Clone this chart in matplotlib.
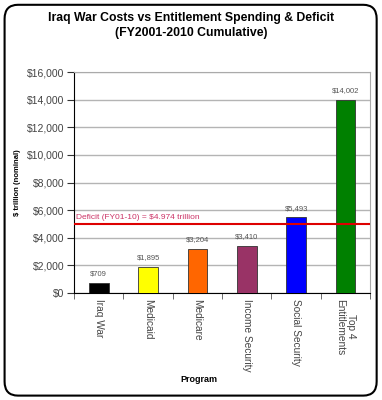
import numpy as np
import matplotlib
matplotlib.use("Agg")
import matplotlib.pyplot as plt
from matplotlib.patches import FancyBboxPatch

programs = ["Iraq War", "Medicaid", "Medicare", "Income Security",
            "Social Security", "Top 4\nEntitlements"]
values = [709, 1895, 3204, 3410, 5493, 14002]
bar_colors = ["#000000", "#ffff00", "#ff6600", "#993366", "#0000ff", "#008000"]
deficit = 4974
deficit_label = "Deficit (FY01-10) = $4.974 trillion"
yticks = list(range(0, 16001, 2000))

plt.rcParams['font.family'] = ['Liberation Sans', 'DejaVu Sans']

fig = plt.figure(figsize=(3.82, 4.0), dpi=100)

# rounded frame round the whole chart
frame = FancyBboxPatch((0.012, 0.011), 0.974, 0.977,
                       boxstyle="round,pad=0,rounding_size=0.035",
                       transform=fig.transFigure, facecolor="none",
                       edgecolor="black", linewidth=1.5, zorder=10)
fig.patches.append(frame)

fig.text(0.5, 0.956, "Iraq War Costs vs Entitlement Spending & Deficit",
         ha="center", va="center", fontsize=8.8, fontweight="bold")
fig.text(0.5, 0.918, "(FY2001-2010 Cumulative)",
         ha="center", va="center", fontsize=8.8, fontweight="bold")

ax = fig.add_axes([0.194, 0.2675, 0.775, 0.5525])
x = np.arange(len(programs))
ax.bar(x, values, width=0.4, color=bar_colors, edgecolor="#333333",
       linewidth=0.6, zorder=3)
for xi, v in zip(x, values):
    ax.annotate("${:,}".format(v), (xi, v), xytext=(0, 4),
                textcoords="offset points", ha="center", va="bottom",
                fontsize=5.5, color="#555555")

ax.axhline(deficit, color="#dd0000", linewidth=1.5, zorder=4)
ax.text(-0.47, deficit + 250, deficit_label, color="#cc3366",
        fontsize=6, ha="left", va="bottom", zorder=5)

ax.set_xlim(-0.5, len(programs) - 0.5)
ax.set_ylim(0, 16000)
ax.set_yticks(yticks)
ax.set_yticklabels(["${:,}".format(t) for t in yticks], fontsize=7.5,
                   color="#444444")
ax.yaxis.grid(True, color="#b4b4b4", linewidth=1.0, zorder=0)
ax.set_axisbelow(True)

ax.set_xticks(x)
ax.set_xticklabels(programs, rotation=270, fontsize=7.3, color="#444444",
                   va="top", ha="center", multialignment="center")
ax.set_xticks(np.arange(len(programs) + 1) - 0.5, minor=True)
ax.tick_params(axis="x", which="major", length=0, pad=4)
ax.tick_params(axis="x", which="minor", length=4, color="#555555",
               direction="out")
ax.tick_params(axis="y", length=5, color="#333333", pad=2)

ax.spines["left"].set_color("black")
ax.spines["bottom"].set_color("black")
ax.spines["top"].set_color("#aaaaaa")
ax.spines["right"].set_color("#aaaaaa")

ax.set_ylabel("$ trillion (nominal)", fontsize=5.5, fontweight="bold",
              labelpad=4)
fig.text(0.52, 0.05, "Program", ha="center", va="center", fontsize=6.5,
         fontweight="bold")

fig.savefig("out.png", dpi=100, facecolor="white")
